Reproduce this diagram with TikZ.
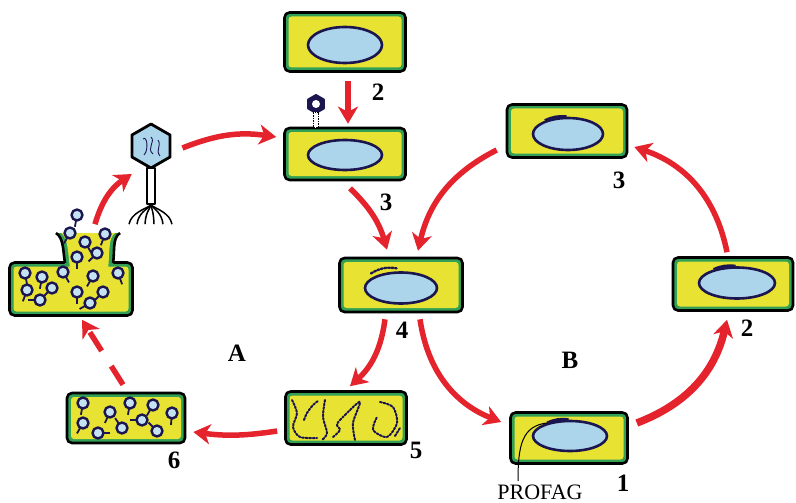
\documentclass[tikz,border=0pt]{standalone}
\usepackage{fontspec}
\setmainfont{Liberation Serif}
\usetikzlibrary{arrows.meta,shapes.geometric}
\definecolor{arrowred}{RGB}{228,35,45}
\definecolor{cellyellow}{RGB}{232,226,50}
\definecolor{cellgreen}{RGB}{50,160,85}
\definecolor{nucblue}{RGB}{172,213,236}
\definecolor{navy}{RGB}{28,22,80}

\begin{document}
\begin{tikzpicture}[
                                x = 1pt, y = -1pt,
                                > = {Stealth[length=17pt, width=20pt, inset=5pt]},
                                line join = round
                                ]

                                \tikzstyle{cell}=[
                                        draw = black,
                                        line width = 2.6pt,
                                        rounded corners = 5pt,
                                        fill = cellgreen,
                                        minimum width = 121pt,
                                        minimum height = 53pt,
                                        path picture = {\fill[cellyellow, rounded corners=3pt]
                                          ([shift={(4pt,4pt)}]path picture bounding box.south west) rectangle
                                          ([shift={(-4pt,-4pt)}]path picture bounding box.north east);}
                                ]
                                \tikzstyle{nucleus}=[
                                        ellipse,
                                        draw = navy,
                                        line width = 2.6pt,
                                        fill = nucblue,
                                        minimum width = 72pt,
                                        minimum height = 31pt,
                                        inner sep = 0pt
                                ]
                                \tikzstyle{virion}=[circle, draw = navy, line width = 2.4pt, fill = nucblue!70, minimum size = 11pt, inner sep = 0pt]
                                \tikzstyle{redarrow}=[draw = arrowred, line width = 5.5pt, ->]
                                \tikzstyle{dna}=[navy, line width = 2pt, dash pattern = on 2pt off 1.6pt, line cap = round]
                                \tikzstyle{num}=[font = \fontsize{25}{25}\selectfont\bfseries]

                                \useasboundingbox (0,0) rectangle (796,503);

                                \node[cell, minimum height=59pt] (A2) at (345,42) {};
                                \node[nucleus, minimum width=74pt, minimum height=36pt] (nA2) at (345,45) {};
                                \node[cell, minimum height=52pt] (A3) at (345,154) {};
                                \node[nucleus, minimum width=74pt, minimum height=30pt] (nA3) at (345,155) {};
                                \node[cell, minimum width=123pt, minimum height=54pt] (4) at (401,285) {};
                                \node[nucleus] (n4) at (401,288) {};
                                \node[cell] (A5) at (346,418) {};
                                \node[cell, minimum width=118pt, minimum height=50pt] (A6) at (126,418) {};
                                \node[cell, minimum width=123pt] (L) at (71,289) {};
                                \node[cell, minimum width=120pt] (B3) at (567,131) {};
                                \node[nucleus, minimum width=70pt, minimum height=32pt] (nB3) at (568,134) {};
                                \node[cell, minimum width=120pt] (B2) at (733,284) {};
                                \node[nucleus, minimum width=76pt, minimum height=31pt] (nB2) at (737,283) {};
                                \node[cell, minimum width=117pt, minimum height=51pt] (B1) at (569,438) {};
                                \node[nucleus, minimum width=74pt, minimum height=30pt] (nB1) at (570,436) {};

                                \fill[cellgreen] (56,233) .. controls (64,238) and (63,252) .. (65,266) -- (113,266) .. controls (115,252) and (112,238) .. (120,233) -- cycle;
                                \fill[cellyellow] (61,233) .. controls (68,238) and (68,252) .. (70,269) -- (108,269) .. controls (110,252) and (108,238) .. (115,233) -- cycle;
                                \draw[line width=2.6pt] (56,233) .. controls (64,238) and (63,252) .. (65,263);
                                \draw[line width=2.6pt] (120,233) .. controls (112,238) and (115,252) .. (113,263);

                                \foreach \x/\y/\a [count=\i] in {77/215/100, 70/233/120, 105/234/110, 85/242/60, 97/253/135, 77/257/90,
                                        25/273/80, 42/277/100, 63/272/60, 93/276/120, 118/273/70, 27/290/110, 52/288/135,
                                        77/292/90, 103/292/135, 40/300/180, 90/303/150}{
                                        \draw[navy, line width=1.8pt] (\x,\y) -- ++(\a:12);
                                        \node[virion] (l\i) at (\x,\y) {};
                                }
                                \foreach \x/\y/\a [count=\i] in {83/403/100, 110/412/115, 130/403/100, 153/405/120, 172/413/95,
                                        83/423/120, 98/433/0, 122/428/235, 142/420/180, 157/431/225}{
                                        \draw[navy, line width=1.8pt] (\x,\y) -- ++(\a:12);
                                        \node[virion] (s\i) at (\x,\y) {};
                                }

                                \draw[dna] plot[smooth] coordinates {(292,400) (297,413) (293,427) (300,437) (317,438)};
                                \draw[dna] plot[smooth] coordinates {(304,420) (307,413) (313,405) (318,401)};
                                \draw[dna] plot[smooth] coordinates {(325,400) (323,417) (327,433) (322,440)};
                                \draw[dna] plot[smooth] coordinates {(333,437) (340,430) (337,424) (347,413) (360,402) (353,423) (355,440)};
                                \draw[dna] plot[smooth] coordinates {(380,402) (393,407) (397,423) (387,437) (373,430) (377,417)};
                                \draw[dna] plot[smooth] coordinates {(395,436) (400,428)};

                                \node[regular polygon, regular polygon sides=6, shape border rotate=30, minimum size=44pt,
                                        draw, line width=2.8pt, fill=nucblue, inner sep=0pt] (H) at (151,146) {};
                                \draw[navy, line width=0.9pt] (143,139) .. controls (147,135) and (149,150) .. (144,155);
                                \draw[navy, line width=0.9pt] (151,137) .. controls (156,142) and (146,148) .. (153,154);
                                \draw[navy, line width=0.9pt] (158,140) .. controls (162,146) and (155,150) .. (160,156);
                                \node[draw, line width=2.4pt, fill=white, minimum width=8pt, minimum height=36pt, inner sep=0pt] (T) at (151,186) {};
                                \foreach \e in {-22,-14,-6,3,12,21}
                                        \draw[line width=1.5pt] (T.south) .. controls ([shift={(\e*0.3,4)}]T.south) and ([shift={(\e*0.9,8)}]T.south) .. ([shift={(\e,19)}]T.south);

                                \node[regular polygon, regular polygon sides=6, shape border rotate=30, minimum size=18pt,
                                        draw=navy, line width=2pt, fill=navy, inner sep=0pt] (h3) at (316,104) {};
                                \node[circle, fill=white, minimum size=8pt, inner sep=0pt] (c3) at (316,104) {};
                                \node[draw, line width=0.8pt, dash pattern=on 1.5pt off 1pt, fill=white, minimum width=5pt, minimum height=15pt, inner sep=0pt] (t3) at (316,120) {};

                                \draw[dna, line width=2.4pt] ([shift={(-1,-4)}]n4.160) to[bend left=20] ([shift={(0,-3)}]n4.105);
                                \draw[navy, line width=3pt] (nB3.150) to[bend left=15] (nB3.95);
                                \draw[navy, line width=3pt] (nB2.150) to[bend left=15] (nB2.95);
                                \draw[navy, line width=3pt] (nB1.150) to[bend left=15] (nB1.95);

                                \draw[redarrow] ([shift={(3,8)}]A2.south) -- ([shift={(3,-3)}]A3.north);
                                \draw[redarrow] ([shift={(11,2)}]H.east) to[bend left=15] ([shift={(-7,-17)}]A3.west);
                                \draw[redarrow] ([shift={(24,-37)}]L.north) to[bend left=20] ([shift={(-14,-12)}]T.west);
                                \draw[redarrow, dash pattern=on 22pt off 18pt] ([shift={(-3,-7)}]A6.north) -- ([shift={(11,3)}]L.south);
                                \draw[redarrow] ([shift={(-7,13)}]A5.west) to[bend left=8] ([shift={(7,14)}]A6.east);
                                \draw[redarrow] ([shift={(-16,6)}]4.south) to[bend left=20] ([shift={(4,-4)}]A5.north);
                                \draw[redarrow] ([shift={(19,6)}]4.south) to[bend right=30] ([shift={(-8,-16)}]B1.west);
                                \draw[redarrow] ([shift={(5,7)}]A3.south) to[bend left=15] ([shift={(-14,-7)}]4.north);
                                \draw[redarrow] ([shift={(-9,19)}]B3.west) to[bend right=25] ([shift={(17,-6)}]4.north);
                                \draw[redarrow, line width=7.5pt] ([shift={(8,-15)}]B1.east) to[bend right=28] ([shift={(-6,8)}]B2.south);
                                \draw[redarrow] ([shift={(-6,-4)}]B2.north) to[bend right=30] ([shift={(6,16)}]B3.east);

                                \node[num] (lA2) at (378,92) {2};
                                \node[num] (lA3) at (386,202) {3};
                                \node[num] (l4) at (402,330) {4};
                                \node[num] (lA5) at (416,450) {5};
                                \node[num] (lA6) at (174,460) {6};
                                \node[num] (lB3) at (619,180) {3};
                                \node[num] (lB2) at (747,328) {2};
                                \node[num] (lB1) at (623,483) {1};
                                \node[num] (A) at (237,353) {A};
                                \node[num] (B) at (570,360) {B};
                                \node[font=\fontsize{22}{22}\selectfont] (P) at (540,492) {PROFAG};
                                \draw[line width=1pt] ([xshift=-22pt]P.north) .. controls (518,445) and (522,426) .. (nB1.150);
                       \end{tikzpicture}
\end{document}
